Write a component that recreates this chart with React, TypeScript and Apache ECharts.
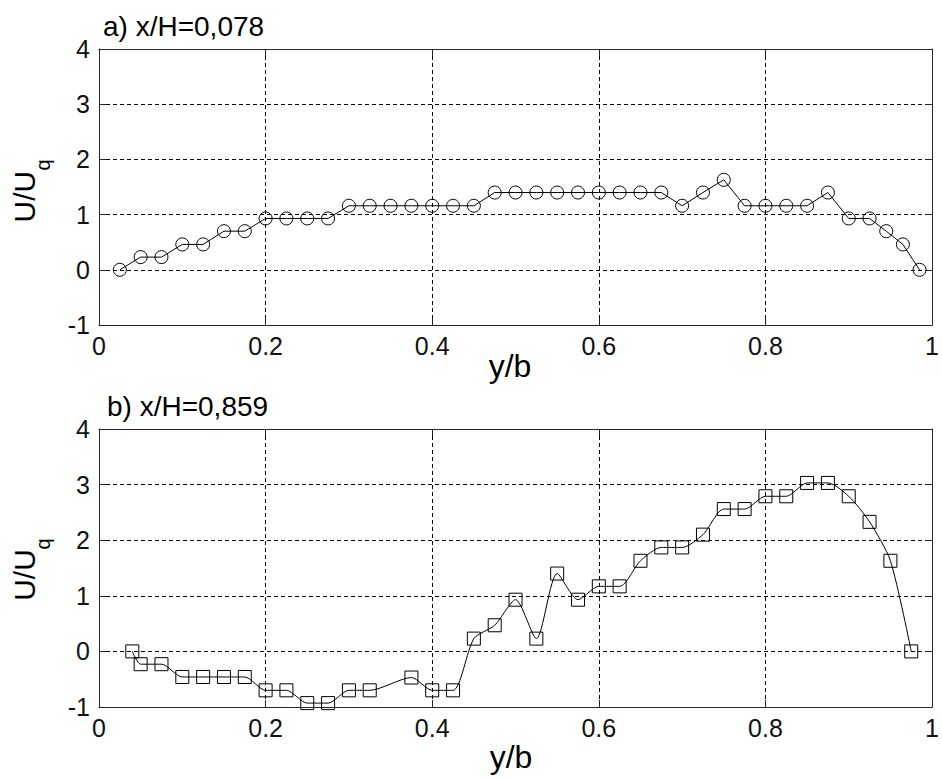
import React, { useEffect, useRef } from "react";
import * as echarts from "echarts";

// Panel a) x/H = 0,078
const xA = [0.025, 0.05, 0.075, 0.1, 0.125, 0.15, 0.175, 0.2, 0.225, 0.25, 0.275, 0.3, 0.325, 0.35, 0.375, 0.4, 0.425, 0.45, 0.475, 0.5, 0.525, 0.55, 0.575, 0.6, 0.625, 0.65, 0.675, 0.7, 0.725, 0.75, 0.775, 0.8, 0.825, 0.85, 0.875, 0.9, 0.925, 0.945, 0.965, 0.985];
const yA = [0, 0.23, 0.23, 0.46, 0.46, 0.7, 0.7, 0.93, 0.93, 0.93, 0.93, 1.16, 1.16, 1.16, 1.16, 1.16, 1.16, 1.16, 1.4, 1.4, 1.4, 1.4, 1.4, 1.4, 1.4, 1.4, 1.4, 1.16, 1.4, 1.63, 1.16, 1.16, 1.16, 1.16, 1.4, 0.93, 0.93, 0.7, 0.46, 0];

// Panel b) x/H = 0,859
const xB = [0.04, 0.05, 0.075, 0.1, 0.125, 0.15, 0.175, 0.2, 0.225, 0.25, 0.275, 0.3, 0.325, 0.375, 0.4, 0.425, 0.45, 0.475, 0.5, 0.525, 0.55, 0.575, 0.6, 0.625, 0.65, 0.675, 0.7, 0.725, 0.75, 0.775, 0.8, 0.825, 0.85, 0.875, 0.9, 0.925, 0.95, 0.975];
const yB = [0, -0.23, -0.23, -0.46, -0.46, -0.46, -0.46, -0.7, -0.7, -0.93, -0.93, -0.7, -0.7, -0.47, -0.7, -0.7, 0.23, 0.47, 0.93, 0.23, 1.4, 0.93, 1.17, 1.17, 1.63, 1.87, 1.87, 2.1, 2.56, 2.56, 2.79, 2.79, 3.03, 3.03, 2.79, 2.33, 1.63, 0];

const titleA = "a) x/H=0,078";
const titleB = "b) x/H=0,859";
const xName = "y/b";
const yNameMain = "U/U";
const yNameSub = "q";

const X_MIN = 0, X_MAX = 1, X_STEP = 0.2;
const Y_MIN = -1, Y_MAX = 4, Y_STEP = 1;

const FONT = "Arial, 'Liberation Sans', sans-serif";
const AX = "#262626";

export default function App() {
  const ref = useRef<HTMLDivElement>(null);
  useEffect(() => {
    if (!ref.current) return;
    const chart = echarts.init(ref.current, null, { renderer: "svg" });

    const fmt = (v: number) => String(+v.toFixed(1));
    const mainX = (grid: number) => ({
      type: "value",
      gridIndex: grid,
      min: X_MIN,
      max: X_MAX,
      interval: X_STEP,
      position: "bottom",
      axisLine: { show: true, onZero: false, lineStyle: { color: AX, width: 1 } },
      axisTick: { show: true, inside: true, length: 7, lineStyle: { color: AX } },
      axisLabel: {
        show: true,
        margin: 21,
        verticalAlign: "middle",
        color: "#111",
        fontSize: 25,
        fontFamily: FONT,
        formatter: fmt,
      },
      splitLine: { show: true, lineStyle: { color: "#000", type: [4, 3], width: 1 } },
    });
    const topX = (grid: number) => ({
      type: "value",
      gridIndex: grid,
      min: X_MIN,
      max: X_MAX,
      interval: X_STEP,
      position: "top",
      axisLine: { show: true, onZero: false, lineStyle: { color: AX, width: 1 } },
      axisTick: { show: true, inside: true, length: 7, lineStyle: { color: AX } },
      axisLabel: { show: false },
      splitLine: { show: false },
    });
    const mainY = (grid: number) => ({
      type: "value",
      gridIndex: grid,
      min: Y_MIN,
      max: Y_MAX,
      interval: Y_STEP,
      position: "left",
      axisLine: { show: true, onZero: false, lineStyle: { color: AX, width: 1 } },
      axisTick: { show: true, inside: true, length: 7, lineStyle: { color: AX } },
      axisLabel: {
        show: true,
        margin: 9,
        color: "#111",
        fontSize: 25,
        fontFamily: FONT,
      },
      splitLine: { show: true, lineStyle: { color: "#000", type: [4, 3], width: 1 } },
    });
    const rightY = (grid: number) => ({
      type: "value",
      gridIndex: grid,
      min: Y_MIN,
      max: Y_MAX,
      interval: Y_STEP,
      position: "right",
      axisLine: { show: true, onZero: false, lineStyle: { color: AX, width: 1 } },
      axisTick: { show: true, inside: true, length: 7, lineStyle: { color: AX } },
      axisLabel: { show: false },
      splitLine: { show: false },
    });

    const pairs = (xs: number[], ys: number[]) => xs.map((x, i) => [x, ys[i]]);

    const textStyle = (size: number) => ({
      fill: "#000",
      font: `${size}px ${FONT}`,
    });

    chart.setOption({
      animation: false,
      backgroundColor: "#fff",
      grid: [
        { left: 99, top: 49, width: 834, height: 276, containLabel: false },
        { left: 99, top: 429, width: 834, height: 278, containLabel: false },
      ],
      xAxis: [mainX(0), topX(0), mainX(1), topX(1)],
      yAxis: [mainY(0), rightY(0), mainY(1), rightY(1)],
      series: [
        {
          type: "line",
          xAxisIndex: 0,
          yAxisIndex: 0,
          data: pairs(xA, yA),
          symbol: "circle",
          symbolSize: 13,
          showSymbol: true,
          lineStyle: { color: "#000", width: 1 },
          itemStyle: { color: "rgba(0,0,0,0)", borderColor: "#000", borderWidth: 1 },
          silent: true,
        },
        {
          type: "line",
          xAxisIndex: 2,
          yAxisIndex: 2,
          data: pairs(xB, yB),
          symbol: "rect",
          symbolSize: 13,
          showSymbol: true,
          smooth: 0.25,
          lineStyle: { color: "#000", width: 1 },
          itemStyle: { color: "rgba(0,0,0,0)", borderColor: "#000", borderWidth: 1 },
          silent: true,
        },
      ],
      graphic: [
        { type: "text", x: 103, y: 26.5, style: { ...textStyle(28), text: titleA, textAlign: "left", textVerticalAlign: "middle" } },
        { type: "text", x: 107, y: 406, style: { ...textStyle(28), text: titleB, textAlign: "left", textVerticalAlign: "middle" } },
        { type: "text", x: 510, y: 365.5, style: { ...textStyle(32), text: xName, textAlign: "center", textVerticalAlign: "middle" } },
        { type: "text", x: 511, y: 757, style: { ...textStyle(32), text: xName, textAlign: "center", textVerticalAlign: "middle" } },
        { type: "text", x: 24.5, y: 196.7, rotation: Math.PI / 2, style: { ...textStyle(30), text: yNameMain, textAlign: "center", textVerticalAlign: "middle" } },
        { type: "text", x: 42.7, y: 165, rotation: Math.PI / 2, style: { ...textStyle(20), text: yNameSub, textAlign: "center", textVerticalAlign: "middle" } },
        { type: "text", x: 24.5, y: 575, rotation: Math.PI / 2, style: { ...textStyle(30), text: yNameMain, textAlign: "center", textVerticalAlign: "middle" } },
        { type: "text", x: 42.7, y: 544, rotation: Math.PI / 2, style: { ...textStyle(20), text: yNameSub, textAlign: "center", textVerticalAlign: "middle" } },
      ],
    });
    return () => chart.dispose();
  }, []);
  return (
    <div
      ref={ref}
      style={{ position: "fixed", left: 0, top: 0, width: 942, height: 779, background: "#fff" }}
    />
  );
}
